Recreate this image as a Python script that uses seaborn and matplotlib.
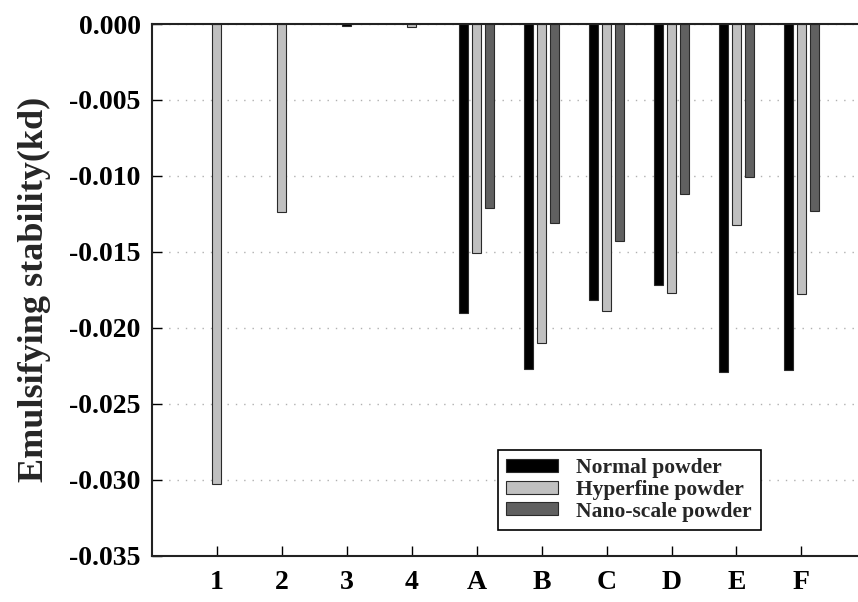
import matplotlib
matplotlib.use("Agg")
import matplotlib.pyplot as plt
import seaborn as sns
import pandas as pd
from matplotlib.ticker import FuncFormatter

# categories on the x axis
categories = ["1", "2", "3", "4", "A", "B", "C", "D", "E", "F"]
series = ["Normal powder", "Hyperfine powder", "Nano-scale powder"]
colors = ["#000000", "#c0c0c0", "#606060"]

# samples 1-4 have a single bar each
single_samples = ["1", "2", "3", "4"]
single_types = ["Hyperfine powder", "Hyperfine powder", "Normal powder", "Hyperfine powder"]
single_values = [-0.0303, -0.0124, -0.0001, -0.0002]

# samples A-F have all three powders
group_samples = ["A", "B", "C", "D", "E", "F"]
normal = [-0.0190, -0.0227, -0.0182, -0.0172, -0.0229, -0.0228]
hyperfine = [-0.0151, -0.0210, -0.0189, -0.0177, -0.0132, -0.0178]
nano = [-0.0121, -0.0131, -0.0143, -0.0112, -0.0101, -0.0123]

yticks = [0.0, -0.005, -0.010, -0.015, -0.020, -0.025, -0.030, -0.035]

df_single = pd.DataFrame({"sample": single_samples, "type": single_types, "value": single_values})
df_group = pd.DataFrame({
    "sample": group_samples * 3,
    "type": [series[0]] * 6 + [series[1]] * 6 + [series[2]] * 6,
    "value": normal + hyperfine + nano,
})
palette = dict(zip(series, colors))

sns.set_style("ticks")
plt.rcParams["font.family"] = ["Liberation Serif", "DejaVu Serif"]
plt.rcParams["font.weight"] = "bold"
plt.rcParams["axes.unicode_minus"] = False

fig = plt.figure(figsize=(8.58, 6.02), dpi=100)
ax = fig.add_axes([0.1768, 0.0769, 0.8232, 0.8832])

bar_kw = dict(edgecolor="#2a2a2a", linewidth=0.8, saturation=1, errorbar=None)
sns.barplot(data=df_single, x="sample", y="value", hue="type", order=categories,
            hue_order=series, palette=palette, dodge=False, width=0.133,
            legend=False, ax=ax, **bar_kw)
sns.barplot(data=df_group, x="sample", y="value", hue="type", order=categories,
            hue_order=series, palette=palette, width=0.6, gap=0.335,
            ax=ax, **bar_kw)

ax.set_xlim(-1.0, 9.87)
ax.set_ylim(-0.035, 0.0)
ax.set_yticks(yticks)
ax.yaxis.set_major_formatter(FuncFormatter(lambda v, p: f"{abs(v):.3f}" if abs(v) < 1e-9 else f"{v:.3f}"))
ax.set_xlabel("")
ax.set_ylabel("Emulsifying stability(kd)", fontsize=26, fontweight="bold", labelpad=13)
ax.tick_params(axis="both", direction="in", length=7, width=1, labelsize=20, colors="#000000")
ax.tick_params(axis="y", pad=8)
ax.tick_params(axis="x", pad=10)
for lab in ax.get_xticklabels() + ax.get_yticklabels():
    lab.set_fontweight("bold")

ax.yaxis.grid(True, linestyle=(0, (1, 5)), color="#b0b0b0", linewidth=1)
ax.set_axisbelow(True)
for s in ["top", "left", "bottom"]:
    ax.spines[s].set_color("#222222")
    ax.spines[s].set_linewidth(1.5)
ax.spines["right"].set_visible(False)

leg = ax.legend(loc="lower left", bbox_to_anchor=(0.49, 0.048), borderaxespad=0,
                title=None, fancybox=False, framealpha=1, edgecolor="#000000",
                prop={"size": 15.5, "weight": "bold"}, handlelength=2.4, handleheight=0.55,
                handletextpad=0.85, borderpad=0.4, labelspacing=0.08)
leg.get_frame().set_linewidth(1.2)

fig.savefig("out.png", dpi=100)
